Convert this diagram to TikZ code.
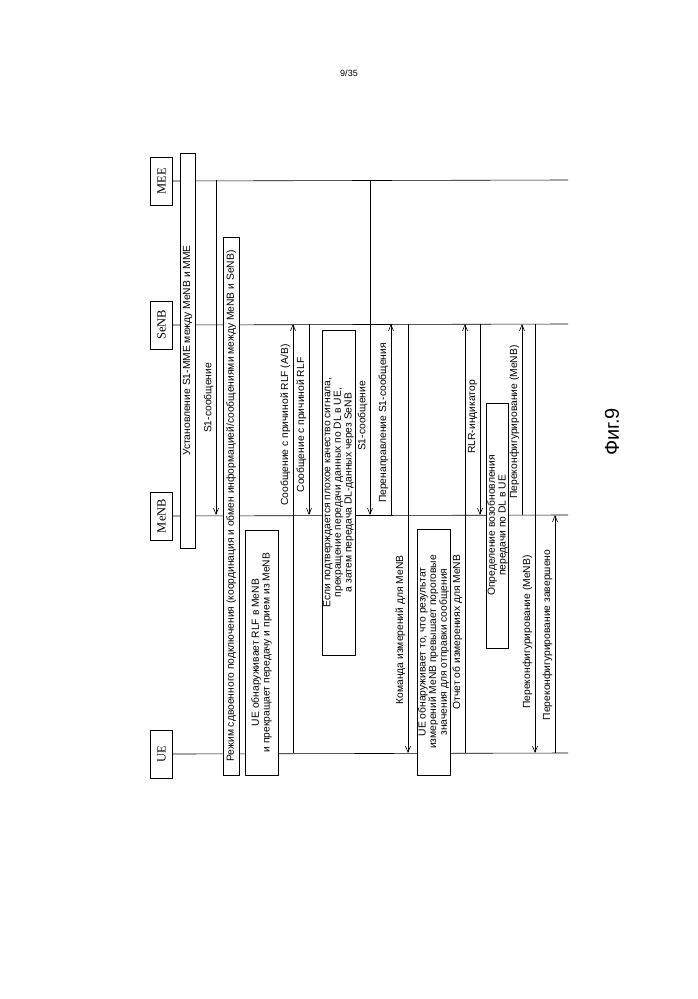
\documentclass[tikz,border=0pt]{standalone}
\usepackage{fontspec}
\setmainfont{Liberation Serif}
\newfontfamily\lab{Liberation Sans}
\usetikzlibrary{arrows.meta}
\tikzset{
  ent/.style={draw,rotate=90,minimum width=48pt,minimum height=22pt,inner sep=1pt,font=\fontsize{12.5}{12.5}\selectfont},
  life/.style={line width=0.6pt},
  msgline/.style={line width=0.6pt,-{Straight Barb[length=6pt,width=5pt]}},
  mlab/.style={rotate=90,anchor=south,inner sep=1.5pt,font=\lab\fontsize{10.3}{10.5}\selectfont},
  actbox/.style={draw,line width=0.6pt,rotate=90,inner sep=1pt,align=center,font=\lab\fontsize{10.3}{10.6}\selectfont}
}
\newcommand{\msgat}[6]{%
  \coordinate (#1a) at (#2,#3);
  \coordinate (#1b) at (#2,#4);
  \draw[msgline] (#1a) -- (#1b);
  \node[mlab] (#1l) at (#2-1,#6) {#5};}
\begin{document}
\begin{tikzpicture}[x=1pt,y=-1pt]
\useasboundingbox (0,0) rectangle (698,999);
\node[font=\lab\fontsize{9}{9}\selectfont] (pg) at (349,73) {9/35};
% entities
\node[ent] (mme) at (161.5,181) {MEE};
\node[ent] (senb) at (161.5,325) {SeNB};
\node[ent] (menb) at (161.5,516) {MeNB};
\node[ent] (ue) at (161.5,754) {UE};
\coordinate (mmeE) at (568,180);
\coordinate (senbE) at (568,324);
\coordinate (menbE) at (568,515);
\coordinate (ueE) at (568,753);
\draw[life] (mme.south) -- (mmeE);
\draw[life] (senb.south) -- (senbE);
\draw[life] (menb.south) -- (menbE);
\draw[life] (ue.south) -- (ueE);
% boxes
\node[actbox,fill=white,minimum width=395pt,minimum height=15pt] (b1) at (187.5,350.5) {Установление S1-MME между MeNB и MME};
\msgat{m1}{216}{180}{515}{S1-сообщение}{398}
\node[actbox,fill=white,minimum width=538pt,minimum height=16pt] (b2) at (231,506) {Режим сдвоенного подключения (координация и обмен информацией/сообщениями между MeNB и SeNB)};
\node[actbox,fill=white,minimum width=245pt,minimum height=33pt] (b3) at (261.5,652.5) {UE обнаруживает RLF в MeNB\\и прекращает передачу и прием из MeNB};
\msgat{m2}{293}{753}{324}{Сообщение с причиной RLF (A/B)}{425}
\msgat{m3}{309}{324}{515}{Сообщение с причиной RLF}{425}
\node[actbox,fill=white,minimum width=325pt,minimum height=33pt] (b4) at (338.5,492.5) {Если подтверждается плохое качество сигнала,\\прекращение передачи данных по DL в UE,\\а затем передача DL-данных через SeNB};
\msgat{m4}{370}{180}{515}{S1-сообщение}{416}
\msgat{m5}{391}{515}{324}{Перенаправление S1-сообщения}{423}
\msgat{m6}{408}{324}{753}{Команда измерений для MeNB}{630}
\node[actbox,fill=white,minimum width=246pt,minimum height=33pt] (b5) at (433.5,652) {UE обнаруживает то, что результат\\измерений MeNB превышает пороговые\\значения для отправки сообщения};
\msgat{m7}{465}{753}{324}{Отчет об измерениях для MeNB}{632}
\msgat{m8}{480}{324}{515}{RLR-индикатор}{417}
\node[actbox,fill=white,minimum width=245pt,minimum height=22pt] (b6) at (497.5,525.5) {Определение возобновления\\передачи по DL в UE};
\msgat{m9}{522}{515}{324}{Переконфигурирование (MeNB)}{422}
\msgat{m10}{535}{324}{753}{Переконфигурирование (MeNB)}{632}
\msgat{m11}{555}{753}{515}{Переконфигурирование завершено}{635}
\node[rotate=90,font=\lab\fontsize{20}{20}\selectfont] (fig) at (612,432) {Фиг.9};
\end{tikzpicture}
\end{document}
